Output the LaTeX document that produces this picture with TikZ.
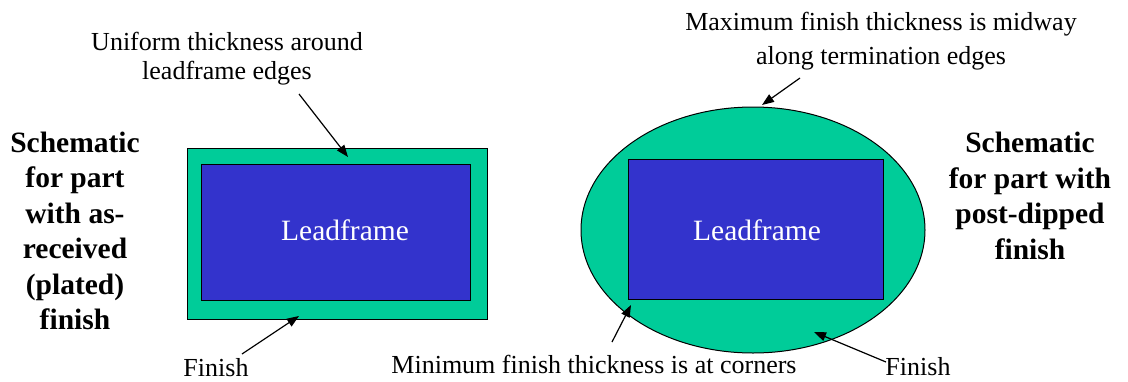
\documentclass[tikz,border=0pt]{standalone}
\usepackage{fontspec}
\setmainfont{Liberation Serif}
\usetikzlibrary{shapes.geometric,arrows.meta}
\definecolor{finishgreen}{HTML}{00CC99}
\definecolor{leadblue}{HTML}{3333CC}
\begin{document}
\begin{tikzpicture}[x=1pt,y=-1pt,
  lbl/.style={font=\fontsize{26}{29}\selectfont,align=center,inner sep=0pt},
  ttl/.style={font=\fontsize{29.5}{35.5}\selectfont\bfseries,align=center,inner sep=0pt},
  lead/.style={font=\fontsize{29.5}{32}\selectfont,text=white},
  ptr/.style={-{Triangle[length=12pt,width=9pt]},line width=1.2pt}]
\useasboundingbox (0,0) rectangle (1128,381);
% left part
\node[draw=black,fill=finishgreen,minimum width=300pt,minimum height=171pt,inner sep=0pt,line width=1pt] (outer) at (337,233.5) {};
\node[draw=black,fill=leadblue,minimum width=269pt,minimum height=136pt,inner sep=0pt,line width=1pt] (inner) at (336,232) {};
\node[lead] (lf1) at (345,230) {Leadframe};
% right part
\node[ellipse,draw=black,fill=finishgreen,minimum width=344pt,minimum height=246pt,inner sep=0pt,line width=1pt] (ell) at (753,230) {};
\node[draw=black,fill=leadblue,minimum width=255pt,minimum height=140pt,inner sep=0pt,line width=1pt] (inner2) at (755.5,229) {};
\node[lead] (lf2) at (757,230) {Leadframe};
% labels
\node[lbl] (uni) at (227,59) {Uniform thickness around\\leadframe edges};
\node[lbl,font=\fontsize{26}{34}\selectfont] (max) at (881,41) {Maximum finish thickness is midway\\along termination edges};
\node[lbl] (fin1) at (216,368) {Finish};
\node[lbl] (minl) at (594,364) {Minimum finish thickness is at corners};
\node[lbl] (fin2) at (918,367) {Finish};
\node[ttl] (tl) at (75,231) {Schematic\\for part\\with as-\\received\\(plated)\\finish};
\node[ttl] (tr) at (1030,196) {Schematic\\for part with\\post-dipped\\finish};
% arrows
\coordinate (t1) at (348,157);
\coordinate (t2) at (299,316);
\coordinate (t3) at (762,105);
\coordinate (t4) at (631,305);
\coordinate (t5) at (814,332);
\draw[ptr] (299,94) -- (t1);
\draw[ptr] (242,354) -- (t2);
\draw[ptr] (800,78) -- (t3);
\draw[ptr] (612,342) -- (t4);
\draw[ptr] (886,362) -- (t5);
\end{tikzpicture}
\end{document}
